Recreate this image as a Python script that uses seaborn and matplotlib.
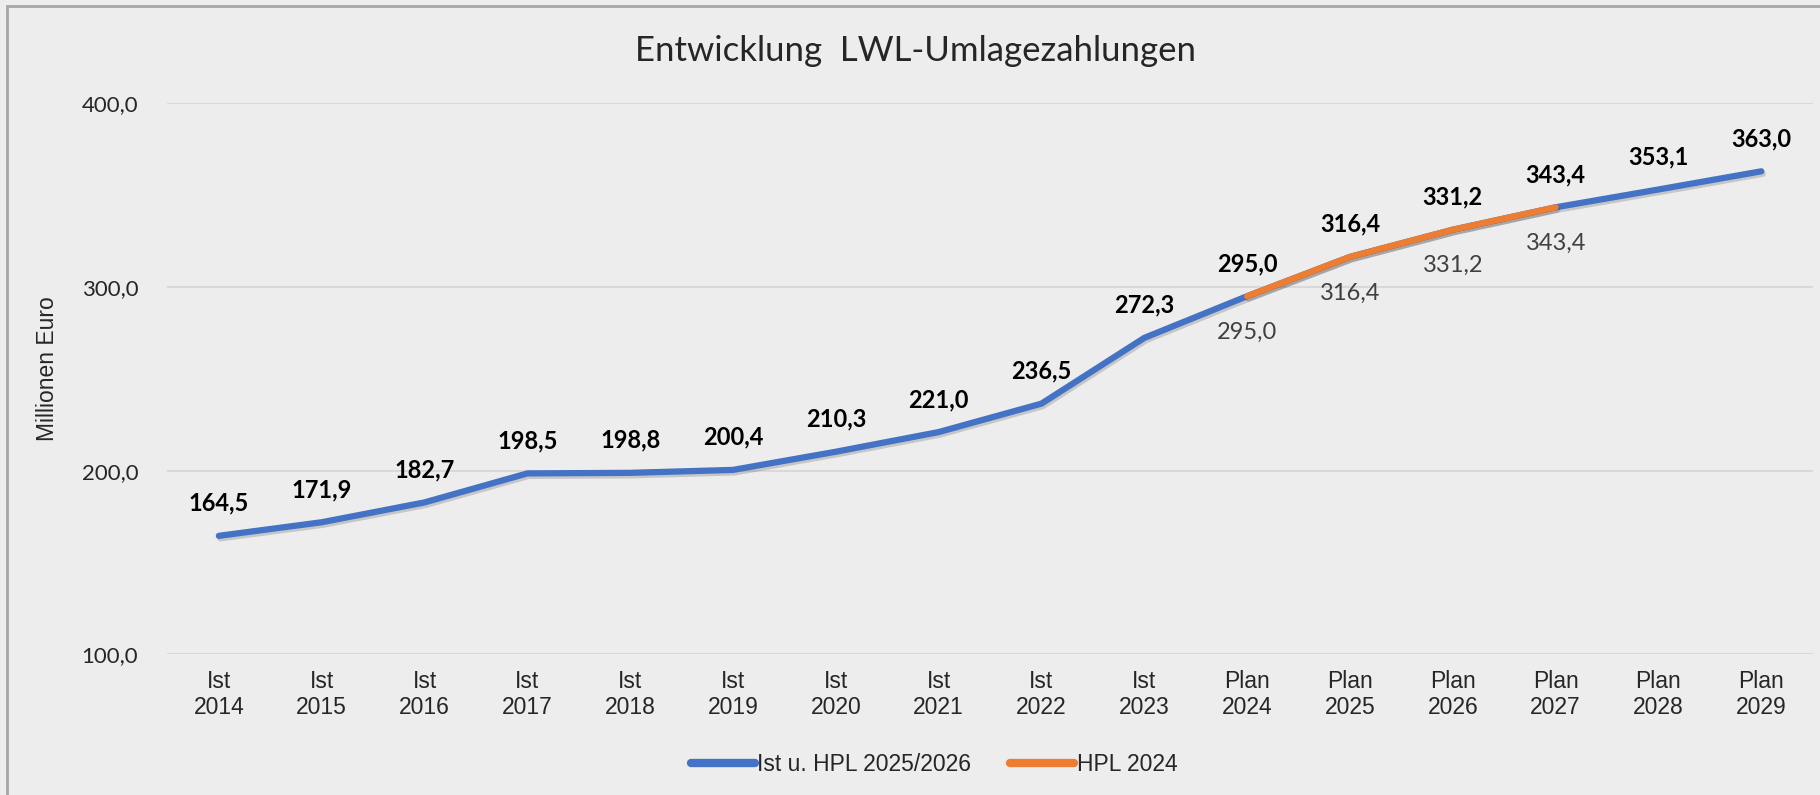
import pandas as pd
import matplotlib
matplotlib.use("Agg")
import matplotlib.pyplot as plt
import matplotlib.patheffects as pe
import seaborn as sns
import numpy as np

categories = ["Ist\n2014", "Ist\n2015", "Ist\n2016", "Ist\n2017", "Ist\n2018", "Ist\n2019",
              "Ist\n2020", "Ist\n2021", "Ist\n2022", "Ist\n2023", "Plan\n2024", "Plan\n2025",
              "Plan\n2026", "Plan\n2027", "Plan\n2028", "Plan\n2029"]
ist_hpl_2025 = [164.5, 171.9, 182.7, 198.5, 198.8, 200.4, 210.3, 221.0, 236.5, 272.3,
                295.0, 316.4, 331.2, 343.4, 353.1, 363.0]
hpl_2024 = [np.nan] * 10 + [295.0, 316.4, 331.2, 343.4]
hpl_2024 += [np.nan] * (len(categories) - len(hpl_2024))

series_names = ["Ist u. HPL 2025/2026", "HPL 2024"]
colors = ["#4472C4", "#ED7D31"]
bg = "#EDEDED"

df = pd.DataFrame({
    "pos": list(range(len(categories))) * 2,
    "value": ist_hpl_2025 + hpl_2024,
    "series": [series_names[0]] * len(categories) + [series_names[1]] * len(categories),
})

sns.set_theme(style="white")
calibri = ["Lato", "DejaVu Sans"]
arial = ["Liberation Sans", "DejaVu Sans"]

fig = plt.figure(figsize=(18.2, 7.95), dpi=100, facecolor=bg)
ax = fig.add_axes([0.092, 0.177, 0.904, 0.693])
ax.set_facecolor(bg)

shadow = [pe.SimpleLineShadow(offset=(1, -1.8), shadow_color="black", alpha=0.16), pe.Normal()]
sns.lineplot(data=df.dropna(), x="pos", y="value", hue="series", palette=colors,
             linewidth=4.5, ax=ax, legend=True)
for line in ax.lines:
    line.set_solid_capstyle("round")
    line.set_path_effects(shadow)

# data labels
for i, v in enumerate(ist_hpl_2025):
    ax.annotate(f"{v:.1f}".replace(".", ","), (i, v), xytext=(0, 23.5), textcoords="offset points",
                ha="center", va="center", fontsize=17, fontweight="bold", family=calibri, color="black")
for i, v in enumerate(hpl_2024):
    if not np.isnan(v):
        ax.annotate(f"{v:.1f}".replace(".", ","), (i, v), xytext=(0, -26), textcoords="offset points",
                    ha="center", va="center", fontsize=17, family=calibri, color="#404040")

ax.set_xlim(-0.5, len(categories) - 0.5)
ax.set_ylim(100, 400)
ax.set_yticks([100, 200, 300, 400])
ax.set_yticklabels(["100,0", "200,0", "300,0", "400,0"], family=calibri, fontsize=16)
ax.set_xticks(range(len(categories)))
ax.set_xticklabels(categories, family=arial, fontsize=16.5)
ax.tick_params(axis="both", length=0)
ax.tick_params(axis="x", pad=11)
ax.tick_params(axis="y", pad=21)
ax.grid(axis="y", color="#D9D9D9", linewidth=1.5)
ax.set_axisbelow(True)
for s in ax.spines.values():
    s.set_visible(False)

ax.set_xlabel("")
ax.set_ylabel("Millionen Euro", family=arial, fontsize=16.5)
ax.yaxis.set_label_coords(-0.066, 0.519)

fig.text(0.503, 0.936, "Entwicklung  LWL-Umlagezahlungen", ha="center", va="center",
         fontsize=25, family=calibri)

leg = ax.legend(loc="center", bbox_to_anchor=(0.466, -0.2), ncol=2, frameon=False,
                handlelength=2.8, handletextpad=0.1, columnspacing=1.7,
                prop={"family": arial, "size": 16.5})
for h in leg.get_lines():
    h.set_linewidth(6)
    h.set_solid_capstyle("round")
    h.set_path_effects([])

# outer chart border
fig.patches.append(plt.Rectangle((7 / 1820, -0.05), 1.2, 1 - 6 / 795 + 0.05, transform=fig.transFigure,
                                 fill=False, edgecolor="#A6A6A6", linewidth=2))

fig.savefig("out.png", dpi=100, facecolor=bg)
